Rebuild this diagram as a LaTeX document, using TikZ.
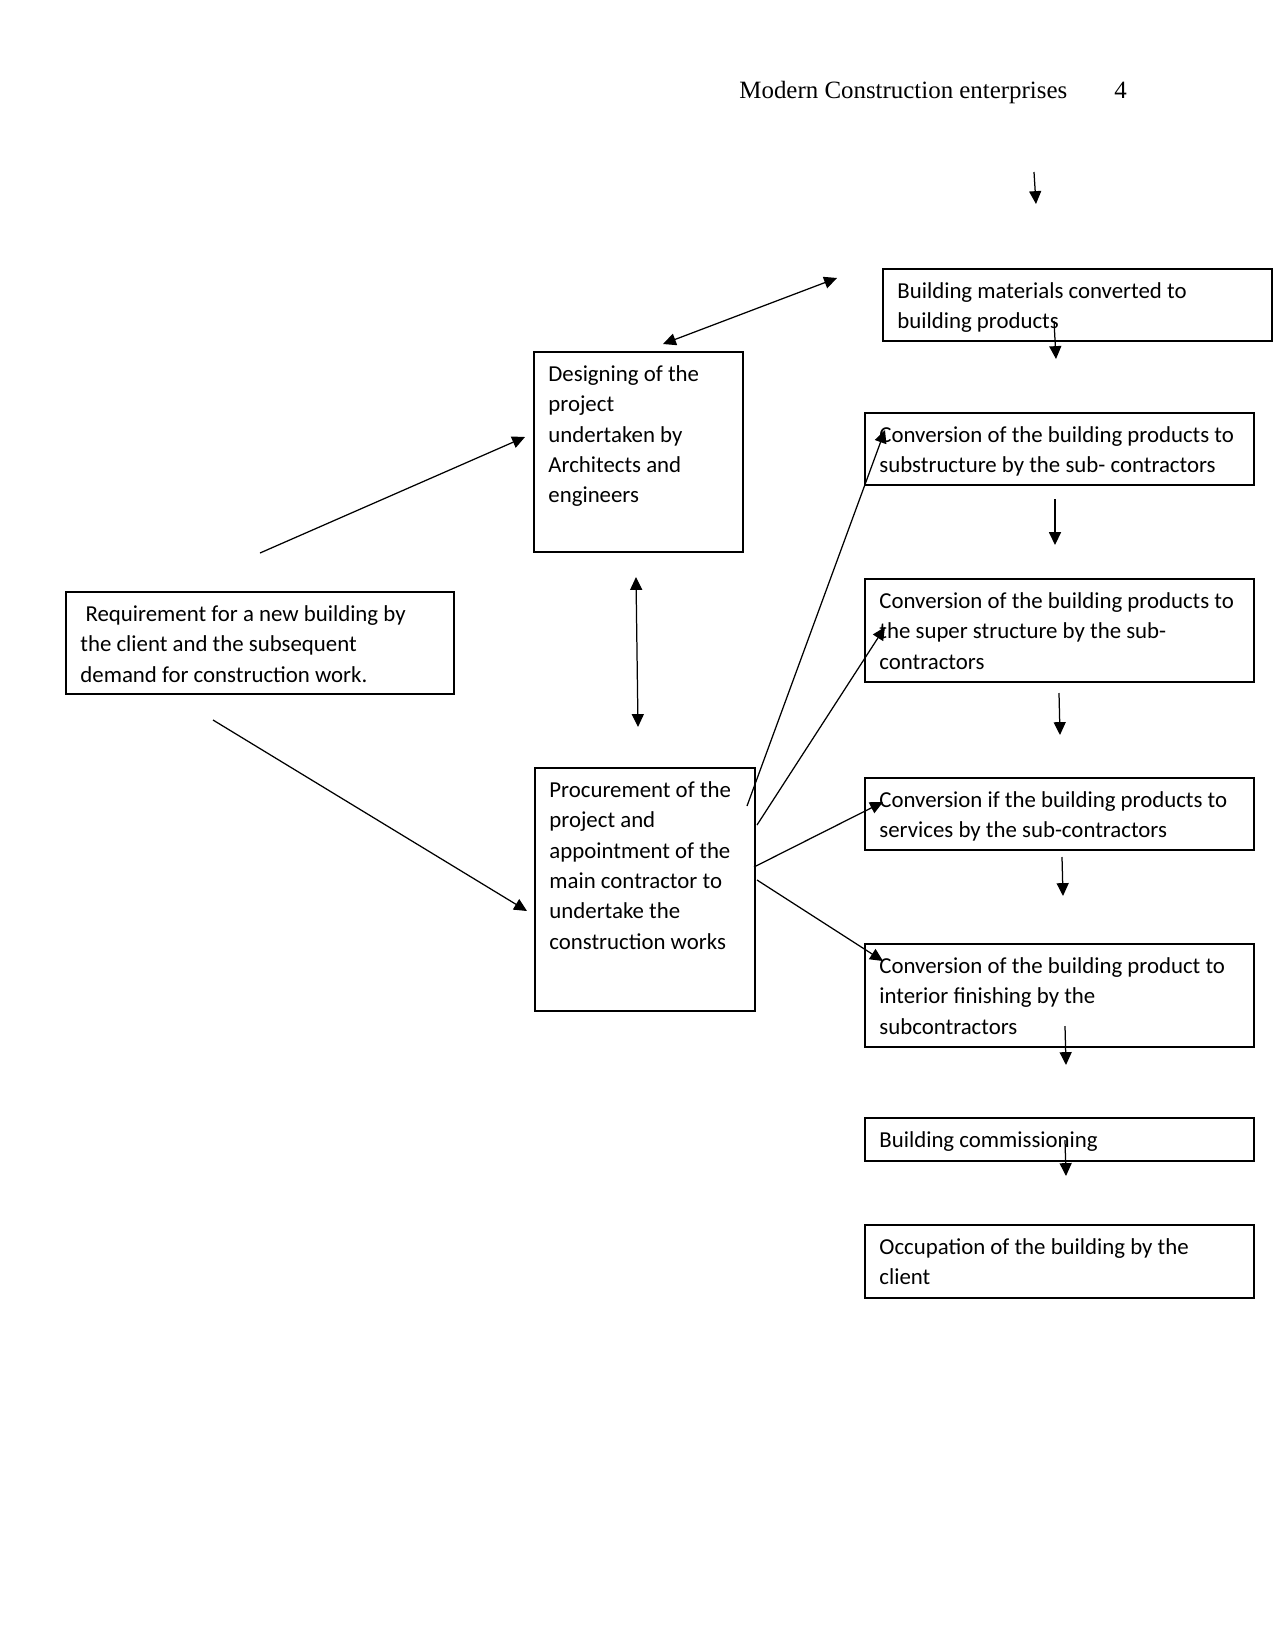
\documentclass[tikz,border=0pt]{standalone}
\usepackage{fontspec}
\setmainfont{Carlito}
\newfontfamily\headfont{Liberation Serif}
\usetikzlibrary{positioning,arrows.meta}

\begin{document}
\begin{tikzpicture}[
  x=0.48bp, y=-0.48bp,
  flowbox/.style={draw=black, line width=1pt, anchor=north west, inner sep=0pt},
  boxtxt/.style={anchor=north west, inner sep=0pt, align=left, font=\fontsize{11}{14.6}\selectfont},
  headtxt/.style={anchor=base west, inner sep=0pt, font=\headfont\fontsize{12}{14}\selectfont},
  flowarrow/.style={draw=black, line width=0.6pt, -{Triangle[length=6.2pt, width=5.8pt]}},
  twoarrow/.style={draw=black, line width=0.6pt, {Triangle[length=6.2pt, width=5.8pt]}-{Triangle[length=6.2pt, width=5.8pt]}}
]
\useasboundingbox (0,0) rectangle (1275,1651);

\node[headtxt] (hd) at (739,98) {Modern Construction enterprises};
\node[headtxt] (pg) at (1114,98) {4};

\node[flowbox, minimum width=186.72bp, minimum height=34.56bp] (bxA) at (882,268) {};
\node[flowbox, minimum width=100.32bp, minimum height=96bp] (bxB) at (533,351) {};
\node[flowbox, minimum width=186.72bp, minimum height=34.56bp] (bxC) at (864,412) {};
\node[flowbox, minimum width=186.72bp, minimum height=49.44bp] (bxD) at (864,578) {};
\node[flowbox, minimum width=186.24bp, minimum height=48.96bp] (bxE) at (65,591) {};
\node[flowbox, minimum width=105.6bp, minimum height=116.64bp] (bxF) at (534,767) {};
\node[flowbox, minimum width=186.72bp, minimum height=34.56bp] (bxG) at (864,777) {};
\node[flowbox, minimum width=186.72bp, minimum height=49.44bp] (bxH) at (864,943) {};
\node[flowbox, minimum width=186.72bp, minimum height=20.64bp] (bxI) at (864,1117) {};
\node[flowbox, minimum width=186.72bp, minimum height=35.04bp] (bxJ) at (864,1224) {};

\node[boxtxt] (tA) at ([shift={(15,9)}]bxA.north west) {\strut Building materials converted to\\building products};
\node[boxtxt] (tB) at ([shift={(15,9)}]bxB.north west) {\strut Designing of the\\project\\undertaken by\\Architects and\\engineers};
\node[boxtxt] (tC) at ([shift={(15,9)}]bxC.north west) {\strut Conversion of the building products to\\substructure by the sub- contractors};
\node[boxtxt] (tD) at ([shift={(15,9)}]bxD.north west) {\strut Conversion of the building products to\\the super structure by the sub-\\contractors};
\node[boxtxt] (tE) at ([shift={(15,9)}]bxE.north west) {\strut\ Requirement for a new building by\\the client and the subsequent\\demand for construction work.};
\node[boxtxt] (tF) at ([shift={(15,9)}]bxF.north west) {\strut Procurement of the\\project and\\appointment of the\\main contractor to\\undertake the\\construction works};
\node[boxtxt] (tG) at ([shift={(15,9)}]bxG.north west) {\strut Conversion if the building products to\\services by the sub-contractors};
\node[boxtxt] (tH) at ([shift={(15,9)}]bxH.north west) {\strut Conversion of the building product to\\interior finishing by the\\subcontractors};
\node[boxtxt] (tI) at ([shift={(15,9)}]bxI.north west) {\strut Building commissioning};
\node[boxtxt] (tJ) at ([shift={(15,9)}]bxJ.north west) {\strut Occupation of the building by the\\client};

\coordinate (gapS) at (1034,172);
\coordinate (gapE) at (1036,204);
\coordinate (dsgS) at (663,344);
\coordinate (dsgE) at (837,278);
\coordinate (acS) at (1054,321);
\coordinate (acE) at (1056,359);
\coordinate (cdS) at (1055,499);
\coordinate (cdE) at (1055,545);
\coordinate (dgS) at (1059,693);
\coordinate (dgE) at (1060,735);
\coordinate (ghS) at (1062,857);
\coordinate (ghE) at (1063,896);
\coordinate (hiS) at (1065,1026);
\coordinate (hiE) at (1066,1065);
\coordinate (ijS) at (1065,1140);
\coordinate (ijE) at (1066,1176);
\coordinate (ebS) at (260,553);
\coordinate (ebE) at (525,437);
\coordinate (efS) at (213,720);
\coordinate (efE) at (527,911);
\coordinate (bfS) at (636,577);
\coordinate (bfE) at (638,727);
\coordinate (fcS) at (747,806);
\coordinate (fcE) at (885,430);
\coordinate (fdS) at (757,825);
\coordinate (fdE) at (885,627);
\coordinate (fgS) at (754,867);
\coordinate (fgE) at (883,802);
\coordinate (fhS) at (757,880);
\coordinate (fhE) at (883,961);

\draw[flowarrow] (gapS) -- (gapE);
\draw[twoarrow] (dsgS) -- (dsgE);
\draw[flowarrow] (acS) -- (acE);
\draw[flowarrow] (cdS) -- (cdE);
\draw[flowarrow] (dgS) -- (dgE);
\draw[flowarrow] (ghS) -- (ghE);
\draw[flowarrow] (hiS) -- (hiE);
\draw[flowarrow] (ijS) -- (ijE);
\draw[flowarrow] (ebS) -- (ebE);
\draw[flowarrow] (efS) -- (efE);
\draw[twoarrow] (bfS) -- (bfE);
\draw[flowarrow] (fcS) -- (fcE);
\draw[flowarrow] (fdS) -- (fdE);
\draw[flowarrow] (fgS) -- (fgE);
\draw[flowarrow] (fhS) -- (fhE);

\end{tikzpicture}
\end{document}
